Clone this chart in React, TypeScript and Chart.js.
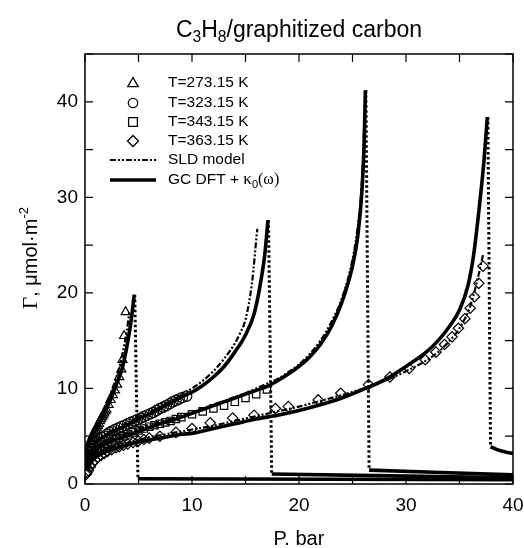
import React, { useEffect, useRef } from 'react';
import { Chart, registerables } from 'chart.js';

Chart.register(...registerables);

const SANS = '"Liberation Sans", Arial, Helvetica, sans-serif';
const SERIF = '"Liberation Serif", "Times New Roman", serif';

// ---------- axes ----------
const X_MIN = 0;
const X_MAX = 40;
const Y_MIN = 0;
const Y_MAX = 45;
const X_TICKS = [0, 10, 20, 30, 40];
const Y_TICKS = [0, 10, 20, 30, 40];
const MINOR_STEP = 5;
const X_TITLE = 'P. bar';

// ---------- legend labels ----------
const LABELS = ['T=273.15 K', 'T=323.15 K', 'T=343.15 K', 'T=363.15 K', 'SLD model', 'GC DFT + '];

// ---------- experimental points ----------
const P_EXP_273 = [0.1, 0.2, 0.3, 0.4, 0.5, 0.6, 0.7, 0.8, 0.9, 1.0, 1.1, 1.2, 1.3, 1.4, 1.5, 1.6, 1.7, 1.8, 1.9, 2.0, 2.2, 2.4, 2.6, 2.8, 3.0, 3.2, 3.4, 3.5, 3.65, 3.8];
const G_EXP_273 = [2.9, 3.3, 3.7, 4.1, 4.4, 4.7, 5.0, 5.2, 5.5, 5.7, 5.9, 6.1, 6.3, 6.6, 6.8, 7.0, 7.2, 7.4, 7.6, 7.8, 8.3, 8.8, 9.3, 9.8, 10.4, 11.2, 12.0, 13.0, 15.5, 18.0];

const P_EXP_323 = [0.1, 0.2, 0.35, 0.5, 0.7, 0.9, 1.1, 1.3, 1.55, 1.8, 2.05, 2.3, 2.55, 2.8, 3.1, 3.4, 3.7, 4.0, 4.3, 4.6, 4.9, 5.2, 5.5, 5.8, 6.1, 6.4, 6.7, 7.0, 7.3, 7.6, 7.9, 8.2, 8.5, 8.8, 9.1, 9.5];
const G_EXP_323 = [2.6, 3.0, 3.4, 3.7, 4.0, 4.3, 4.5, 4.7, 4.85, 5.0, 5.2, 5.4, 5.55, 5.7, 5.85, 6.0, 6.15, 6.3, 6.45, 6.6, 6.75, 6.9, 7.05, 7.2, 7.35, 7.5, 7.7, 7.9, 8.05, 8.2, 8.4, 8.6, 8.75, 8.9, 9.05, 9.2];

const P_EXP_343 = [0.1, 0.2, 0.35, 0.5, 0.7, 0.9, 1.2, 1.5, 1.8, 2.1, 2.5, 2.9, 3.2, 3.6, 4.0, 4.5, 5.0, 5.5, 6.0, 6.5, 7.0, 7.5, 8.0, 8.5, 9.0, 10.0, 11.0, 12.0, 13.0, 14.0, 15.0, 16.0, 17.0];
const G_EXP_343 = [1.9, 2.3, 2.7, 3.0, 3.2, 3.4, 3.6, 3.8, 4.0, 4.2, 4.4, 4.65, 4.8, 5.0, 5.2, 5.4, 5.6, 5.8, 6.0, 6.15, 6.3, 6.45, 6.6, 6.8, 7.0, 7.3, 7.6, 7.9, 8.2, 8.6, 9.0, 9.4, 9.9];

const P_EXP_363 = [0.1, 0.2, 0.3, 0.5, 0.7, 0.95, 1.2, 1.5, 1.8, 2.1, 2.5, 2.9, 3.2, 3.6, 4.0, 4.5, 5.0, 5.5, 6.0, 7.0, 8.5, 10.0, 11.7, 13.8, 15.8, 17.8, 19.0, 21.8, 23.9, 26.5, 28.5, 30.3, 31.8, 32.8, 33.6, 34.3, 34.9, 35.5, 36.0, 36.4, 36.8, 37.2];
const G_EXP_363 = [1.0, 1.2, 1.4, 1.8, 2.2, 2.5, 2.8, 3.0, 3.2, 3.4, 3.6, 3.8, 3.9, 4.05, 4.2, 4.35, 4.5, 4.65, 4.8, 5.0, 5.4, 5.8, 6.4, 6.9, 7.2, 7.9, 8.1, 8.8, 9.5, 10.4, 11.2, 12.1, 13.0, 13.8, 14.6, 15.4, 16.3, 17.3, 18.4, 19.6, 21.0, 22.8];

// ---------- SLD model ----------
const P_SLD_273 = [0.1, 0.5, 1.0, 1.5, 2.0, 2.5, 3.0, 3.5, 3.9, 4.15];
const G_SLD_273 = [3.9, 5.1, 6.2, 7.3, 8.5, 9.8, 11.4, 13.6, 16.0, 18.0];

const P_SLD_323 = [0.1, 1, 2, 3, 4, 5, 6, 7, 8, 9, 10, 11, 12, 13, 14, 14.5, 15, 15.6, 16.1];
const G_SLD_323 = [3.0, 4.5, 5.3, 5.9, 6.4, 7.0, 7.5, 8.1, 8.7, 9.3, 10.0, 10.8, 11.8, 13.1, 14.7, 15.8, 17.2, 21.0, 26.7];

const P_SLD_343 = [0.1, 1, 2, 3, 4, 5, 6, 7, 8, 9, 10, 11, 12, 13, 14, 15, 16, 17, 18, 19, 20, 21, 22, 23, 24, 25, 25.5, 25.9, 26.1];
const G_SLD_343 = [2.3, 3.8, 4.5, 5.0, 5.4, 5.8, 6.1, 6.5, 6.8, 7.2, 7.5, 7.9, 8.3, 8.7, 9.1, 9.5, 10.0, 10.5, 11.0, 11.7, 12.5, 13.6, 15.0, 16.9, 19.4, 23.5, 27.0, 32.0, 38.0];

const P_SLD_363 = [0.1, 0.5, 1, 2, 3, 4, 5, 6, 7, 8, 9, 10, 12, 14, 16, 18, 20, 22, 24, 26, 28, 30, 32, 33, 34, 35, 36, 36.7, 37.2];
const G_SLD_363 = [1.6, 2.4, 3.0, 3.6, 4.0, 4.3, 4.6, 4.9, 5.1, 5.3, 5.5, 5.7, 6.1, 6.6, 7.1, 7.6, 8.1, 8.7, 9.3, 10.0, 10.8, 11.8, 13.0, 13.8, 14.9, 16.3, 18.6, 21.5, 24.0];

// ---------- GC DFT ----------
const P_DFT_273 = [0.1, 0.5, 1.0, 1.5, 2.0, 2.5, 3.0, 3.5, 3.9, 4.3, 4.6];
const G_DFT_273 = [3.6, 4.7, 5.7, 6.7, 7.9, 9.1, 10.6, 12.2, 14.3, 17.0, 19.8];

const P_DFT_323 = [0.1, 1, 2, 3, 4, 5, 6, 7, 8, 9, 10, 11, 12, 13, 14, 15, 15.8, 16.4, 16.8, 17.1];
const G_DFT_323 = [2.8, 4.3, 5.1, 5.7, 6.2, 6.8, 7.3, 7.9, 8.5, 9.1, 9.6, 10.3, 11.2, 12.3, 13.8, 15.6, 17.8, 21.0, 24.0, 27.6];

const P_DFT_343 = [0.1, 1, 2, 3, 4, 5, 6, 7, 8, 9, 10, 11, 12, 13, 14, 15, 16, 17, 18, 19, 20, 21, 22, 23, 24, 25, 25.5, 25.9, 26.1, 26.2];
const G_DFT_343 = [2.1, 3.5, 4.2, 4.7, 5.1, 5.5, 5.9, 6.3, 6.6, 7.0, 7.4, 7.8, 8.2, 8.6, 9.0, 9.4, 9.8, 10.2, 10.8, 11.5, 12.3, 13.3, 14.6, 16.4, 19.0, 22.8, 26.0, 31.0, 36.0, 41.2];

const P_DFT_363 = [0.1, 0.5, 1, 2, 3, 4, 5, 6, 7, 8, 9, 10, 12, 14, 16, 18, 20, 22, 24, 26, 28, 30, 32, 33, 34, 35, 35.8, 36.3, 36.9, 37.3, 37.6];
const G_DFT_363 = [1.4, 2.2, 2.8, 3.4, 3.8, 4.1, 4.4, 4.6, 4.8, 5.0, 5.2, 5.3, 5.8, 6.3, 6.8, 7.2, 7.7, 8.3, 9.0, 9.9, 10.9, 12.3, 13.9, 15.0, 16.4, 18.2, 20.8, 23.8, 29.5, 34.0, 38.4];

// ---------- drops (condensation) and liquid branch ----------
const P_DROP_273 = [4.65, 4.95];
const G_DROP_273 = [19.8, 0.55];
const P_DROP_323 = [17.15, 17.45];
const G_DROP_323 = [27.6, 1.05];
const P_DROP_343 = [26.25, 26.55];
const G_DROP_343 = [41.2, 1.45];
const P_DROP_363 = [37.65, 37.9];
const G_DROP_363 = [38.4, 3.9];

const P_LIQ_273 = [4.95, 40];
const G_LIQ_273 = [0.55, 0.45];
const P_LIQ_323 = [17.45, 40];
const G_LIQ_323 = [1.05, 0.65];
const P_LIQ_343 = [26.55, 40];
const G_LIQ_343 = [1.45, 0.95];
const P_LIQ_363 = [37.9, 38.5, 39.3, 40];
const G_LIQ_363 = [3.9, 3.6, 3.35, 3.2];

const pts = (xs: number[], ys: number[]) => xs.map((x, i) => ({ x, y: ys[i] }));

function drawMarker(ctx: CanvasRenderingContext2D, style: string, x: number, y: number, r: number) {
  ctx.beginPath();
  if (style === 'triangle') {
    ctx.moveTo(x, y - r);
    ctx.lineTo(x + r * 0.95, y + r * 0.65);
    ctx.lineTo(x - r * 0.95, y + r * 0.65);
    ctx.closePath();
  } else if (style === 'circle') {
    ctx.arc(x, y, r * 0.85, 0, Math.PI * 2);
  } else if (style === 'rect') {
    const s = r * 0.8;
    ctx.rect(x - s, y - s, 2 * s, 2 * s);
  } else {
    ctx.moveTo(x, y - r);
    ctx.lineTo(x + r, y);
    ctx.lineTo(x, y + r);
    ctx.lineTo(x - r, y);
    ctx.closePath();
  }
  ctx.stroke();
}

const decorPlugin = {
  id: 'decor',
  afterDraw(chart: any) {
    const { ctx, chartArea: a } = chart;
    const xs = chart.scales.x;
    const ys = chart.scales.y;
    ctx.save();
    ctx.setLineDash([]);
    ctx.strokeStyle = '#000';
    ctx.fillStyle = '#000';
    // frame
    ctx.lineWidth = 1.5;
    ctx.strokeRect(a.left, a.top, a.right - a.left, a.bottom - a.top);
    // inward ticks
    const TL = 8;
    ctx.lineWidth = 1.2;
    ctx.beginPath();
    for (let v = X_MIN; v <= X_MAX; v += MINOR_STEP) {
      const px = xs.getPixelForValue(v);
      ctx.moveTo(px, a.bottom);
      ctx.lineTo(px, a.bottom - TL);
      ctx.moveTo(px, a.top);
      ctx.lineTo(px, a.top + TL);
    }
    for (let v = Y_MIN; v <= Y_MAX; v += MINOR_STEP) {
      const py = ys.getPixelForValue(v);
      ctx.moveTo(a.left, py);
      ctx.lineTo(a.left + TL, py);
      ctx.moveTo(a.right, py);
      ctx.lineTo(a.right - TL, py);
    }
    ctx.stroke();

    // title: C3H8/graphitized carbon
    const tFont = 23;
    const parts: [string, boolean][] = [['C', false], ['3', true], ['H', false], ['8', true], ['/graphitized carbon', false]];
    let total = 0;
    for (const [t, sub] of parts) {
      ctx.font = `${sub ? tFont * 0.68 : tFont}px ${SANS}`;
      total += ctx.measureText(t).width;
    }
    let tx = (a.left + a.right) / 2 - total / 2;
    const tBase = 37;
    ctx.textBaseline = 'alphabetic';
    ctx.textAlign = 'left';
    for (const [t, sub] of parts) {
      ctx.font = `${sub ? tFont * 0.68 : tFont}px ${SANS}`;
      ctx.fillText(t, tx, sub ? tBase + 5 : tBase);
      tx += ctx.measureText(t).width;
    }

    // y-axis title: Γ, μmol·m^-2
    ctx.save();
    ctx.translate(37, 258);
    ctx.rotate(-Math.PI / 2);
    const yParts: [string, string, number, number][] = [
      ['\u0393', SERIF, 21, 0],
      [', \u03bcmol\u00b7m', SANS, 20, 0],
      ['-2', SANS, 13, -9],
    ];
    let yw = 0;
    for (const [t, f, s] of yParts) {
      ctx.font = `${s}px ${f}`;
      yw += ctx.measureText(t).width;
    }
    let yx = -yw / 2;
    for (const [t, f, s, dy] of yParts) {
      ctx.font = `${s}px ${f}`;
      ctx.fillText(t, yx, dy);
      yx += ctx.measureText(t).width;
    }
    ctx.restore();

    // legend
    const LX = 133;
    const rows = [83, 103, 122, 141, 160, 180];
    const styles = ['triangle', 'circle', 'rect', 'rectRot'];
    ctx.lineWidth = 1.3;
    for (let i = 0; i < 4; i++) drawMarker(ctx, styles[i], LX, rows[i], 5.5);
    ctx.beginPath();
    ctx.lineWidth = 2.2;
    ctx.setLineDash([6, 2, 2, 2, 2, 2]);
    ctx.moveTo(110, rows[4]);
    ctx.lineTo(156, rows[4]);
    ctx.stroke();
    ctx.setLineDash([]);
    ctx.beginPath();
    ctx.lineWidth = 3.5;
    ctx.moveTo(110, rows[5]);
    ctx.lineTo(156, rows[5]);
    ctx.stroke();
    ctx.font = `15.5px ${SANS}`;
    ctx.textBaseline = 'middle';
    const TXT = 168;
    for (let i = 0; i < 6; i++) ctx.fillText(LABELS[i], TXT, rows[i]);
    let kx = TXT + ctx.measureText(LABELS[5]).width;
    ctx.font = `17px ${SERIF}`;
    ctx.fillText('\u03ba', kx, rows[5]);
    kx += ctx.measureText('\u03ba').width;
    ctx.font = `11px ${SANS}`;
    ctx.fillText('0', kx, rows[5] + 5);
    kx += ctx.measureText('0').width;
    ctx.font = `16px ${SERIF}`;
    ctx.fillText('(\u03c9)', kx, rows[5]);
    ctx.restore();
  },
};

const expDs = (xs: number[], ys: number[], style: string) => ({
  data: pts(xs, ys),
  showLine: false,
  pointStyle: style,
  pointRadius: 5.2,
  pointBorderWidth: 1.2,
  pointBorderColor: '#000',
  pointBackgroundColor: 'rgba(0,0,0,0)',
  order: 3,
});

const sldDs = (xs: number[], ys: number[]) => ({
  data: pts(xs, ys),
  showLine: true,
  borderColor: '#000',
  borderWidth: 2.2,
  borderDash: [6, 2, 2, 2, 2, 2],
  pointRadius: 0,
  cubicInterpolationMode: 'monotone',
  order: 2,
});

const dftDs = (xs: number[], ys: number[]) => ({
  data: pts(xs, ys),
  showLine: true,
  borderColor: '#000',
  borderWidth: 3.6,
  pointRadius: 0,
  cubicInterpolationMode: 'monotone',
  order: 1,
});

const dropDs = (xs: number[], ys: number[]) => ({
  data: pts(xs, ys),
  showLine: true,
  borderColor: '#000',
  borderWidth: 3,
  borderDash: [2.5, 2.5],
  pointRadius: 0,
  order: 1,
});

export default function App() {
  const ref = useRef<HTMLCanvasElement | null>(null);
  useEffect(() => {
    if (!ref.current) return;
    const chart = new Chart(ref.current, {
      type: 'scatter',
      data: {
        datasets: [
          expDs(P_EXP_273, G_EXP_273, 'triangle'),
          expDs(P_EXP_323, G_EXP_323, 'circle'),
          expDs(P_EXP_343, G_EXP_343, 'rect'),
          expDs(P_EXP_363, G_EXP_363, 'rectRot'),
          sldDs(P_SLD_273, G_SLD_273),
          sldDs(P_SLD_323, G_SLD_323),
          sldDs(P_SLD_343, G_SLD_343),
          sldDs(P_SLD_363, G_SLD_363),
          dftDs(P_DFT_273, G_DFT_273),
          dftDs(P_DFT_323, G_DFT_323),
          dftDs(P_DFT_343, G_DFT_343),
          dftDs(P_DFT_363, G_DFT_363),
          dropDs(P_DROP_273, G_DROP_273),
          dropDs(P_DROP_323, G_DROP_323),
          dropDs(P_DROP_343, G_DROP_343),
          dropDs(P_DROP_363, G_DROP_363),
          dftDs(P_LIQ_273, G_LIQ_273),
          dftDs(P_LIQ_323, G_LIQ_323),
          dftDs(P_LIQ_343, G_LIQ_343),
          dftDs(P_LIQ_363, G_LIQ_363),
        ] as any,
      },
      options: {
        animation: false,
        responsive: false,
        layout: { padding: { top: 54, right: 11, left: 0, bottom: 0 } },
        plugins: {
          legend: { display: false },
          tooltip: { enabled: false },
          title: { display: false },
        },
        scales: {
          x: {
            type: 'linear',
            min: X_MIN,
            max: X_MAX,
            grid: { display: false, drawTicks: false },
            border: { display: false },
            ticks: { font: { family: SANS, size: 19 }, color: '#000', padding: 10, maxRotation: 0 },
            afterBuildTicks: (s: any) => { s.ticks = X_TICKS.map((v) => ({ value: v })); },
            afterFit: (s: any) => { s.height = 64; s.paddingLeft = 0; s.paddingRight = 0; },
            title: { display: true, text: X_TITLE, font: { family: SANS, size: 20 }, color: '#000', padding: { top: 0, bottom: -3 } },
          },
          y: {
            type: 'linear',
            min: Y_MIN,
            max: Y_MAX,
            grid: { display: false, drawTicks: false },
            border: { display: false },
            ticks: { font: { family: SANS, size: 19 }, color: '#000', padding: 7 },
            afterBuildTicks: (s: any) => { s.ticks = Y_TICKS.map((v) => ({ value: v })); },
            afterFit: (s: any) => { s.width = 85; s.paddingTop = 0; s.paddingBottom = 0; },
          },
        },
      } as any,
      plugins: [decorPlugin],
    });
    return () => chart.destroy();
  }, []);
  return (
    <div style={{ position: 'absolute', left: 0, top: 0, width: 524, height: 548, background: '#fff' }}>
      <canvas ref={ref} width={524} height={548} style={{ display: 'block' }} />
    </div>
  );
}
